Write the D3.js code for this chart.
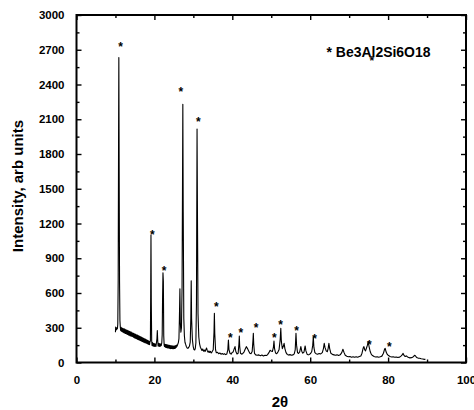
<!DOCTYPE html>
<html>
<head>
<meta charset="utf-8">
<script src="https://cdn.jsdelivr.net/npm/d3@7"></script>
<style>
  html, body { margin: 0; padding: 0; background: #fff; }
  svg { display: block; font-family: "Liberation Sans", Arial, sans-serif; font-weight: bold; }
</style>
</head>
<body>
<svg id="chart" width="474" height="410"></svg>
<script>
/* XRD scan, intensity vs 2θ, with asterisks on the beryl reflections. */

var xTicks = [0, 20, 40, 60, 80, 100];
var xMinor = [10, 30, 50, 70, 90];
var yTicks = [0, 300, 600, 900, 1200, 1500, 1800, 2100, 2400, 2700, 3000];
var yMinor = [150, 450, 750, 1050, 1350, 1650, 1950, 2250, 2550, 2850];

// [2θ, intensity]
var scan = [
  [10.0, 262], [10.05, 305], [10.1, 280], [10.2, 298], [10.3, 284], [10.4, 302], [10.5, 292],
  [10.6, 330], [10.7, 700], [10.8, 1900], [10.87, 2633], [10.95, 1700], [11.05, 700], [11.15, 360],
  [11.25, 305], [11.35, 275], [11.45, 303], [11.55, 270], [11.65, 298], [11.75, 266], [11.85, 295],
  [11.95, 262], [12.05, 292], [12.15, 258], [12.25, 290], [12.35, 256], [12.45, 286], [12.55, 250],
  [12.65, 283], [12.75, 251], [12.85, 280], [12.95, 244], [13.05, 277], [13.15, 242], [13.25, 274],
  [13.35, 238], [13.45, 271], [13.55, 235], [13.65, 268], [13.75, 232], [13.85, 264], [13.95, 230],
  [14.05, 262], [14.15, 226], [14.25, 257], [14.35, 224], [14.45, 254], [14.55, 220], [14.65, 252],
  [14.75, 217], [14.85, 248], [14.95, 212], [15.05, 246], [15.15, 210], [15.25, 241], [15.35, 207],
  [15.45, 238], [15.55, 204], [15.65, 236], [15.75, 200], [15.85, 232], [15.95, 197], [16.05, 228],
  [16.15, 195], [16.25, 226], [16.35, 190], [16.45, 222], [16.55, 188], [16.65, 219], [16.75, 184],
  [16.85, 215], [16.95, 181], [17.05, 212], [17.15, 178], [17.25, 208], [17.35, 175], [17.45, 205],
  [17.55, 172], [17.65, 202], [17.75, 168], [17.85, 198], [17.95, 166], [18.05, 194], [18.15, 162],
  [18.25, 191], [18.35, 160], [18.45, 188], [18.55, 156], [18.65, 184], [18.75, 154], [18.85, 178],
  [18.97, 185], [19.05, 600], [19.12, 1100],
  [19.2, 520], [19.3, 190], [19.4, 148], [19.5, 172], [19.6, 142], [19.7, 166], [19.8, 140],
  [19.9, 164], [20.0, 138], [20.1, 162], [20.2, 140], [20.3, 160], [20.4, 138], [20.5, 164],
  [20.65, 205], [20.75, 275], [20.85, 190], [20.95, 142], [21.05, 166], [21.15, 140], [21.25, 164],
  [21.35, 138], [21.45, 162], [21.55, 140], [21.65, 160], [21.75, 146], [21.9, 172], [22.0, 240],
  [22.1, 560], [22.2, 775], [22.3, 700], [22.4, 230], [22.5, 150], [22.6, 138], [22.7, 158],
  [22.8, 132], [22.9, 156], [23.0, 130], [23.1, 154], [23.2, 128], [23.3, 152], [23.4, 126],
  [23.5, 150], [23.6, 126], [23.7, 148], [23.8, 124], [23.9, 148], [24.0, 122], [24.1, 146],
  [24.2, 120], [24.3, 145], [24.4, 121], [24.5, 144], [24.6, 120], [24.7, 143], [24.8, 119],
  [24.9, 142], [25.0, 120], [25.1, 142], [25.2, 122], [25.3, 144], [25.4, 124], [25.5, 146],
  [25.6, 130], [25.7, 150], [25.85, 142], [26.0, 158],
  [26.15, 172], [26.3, 205], [26.42, 380], [26.55, 637], [26.65, 350], [26.8, 262], [26.95, 300],
  [27.1, 650], [27.2, 1400], [27.3, 2230], [27.4, 1300], [27.55, 380], [27.7, 230], [27.85, 175],
  [28.0, 158], [28.2, 138], [28.4, 126], [28.6, 122], [28.8, 130], [29.0, 142], [29.2, 175],
  [29.35, 380], [29.45, 706], [29.55, 380], [29.75, 200], [29.95, 140], [30.15, 112], [30.35, 108],
  [30.5, 122], [30.65, 170], [30.8, 520], [30.95, 2015], [31.05, 1300], [31.2, 420], [31.4, 220],
  [31.6, 160], [31.8, 132], [32.0, 118], [32.2, 104], [32.4, 116], [32.6, 98], [32.8, 108],
  [33.0, 94], [33.2, 110], [33.4, 125], [33.6, 100], [33.8, 88], [34.0, 100], [34.2, 86],
  [34.4, 96], [34.6, 82], [34.8, 92], [35.1, 110],
  [35.3, 260], [35.4, 425], [35.5, 250], [35.7, 110], [35.9, 84], [36.2, 88], [36.5, 76],
  [36.8, 82], [37.1, 72], [37.4, 78], [37.7, 70], [38.0, 76], [38.3, 68], [38.6, 74],
  [38.85, 110], [39.0, 194], [39.15, 110], [39.4, 80], [39.7, 72], [39.95, 86], [40.2, 90],
  [40.5, 120], [40.7, 137], [40.9, 95], [41.2, 74], [41.5, 80], [41.7, 160], [41.8, 229],
  [41.9, 140], [42.1, 80], [42.4, 72], [42.7, 78], [43.0, 90], [43.3, 115], [43.6, 137],
  [43.9, 120], [44.2, 100], [44.5, 80], [44.8, 76], [45.1, 95], [45.3, 190], [45.4, 252],
  [45.5, 160], [45.7, 78], [46.0, 66], [46.4, 62], [46.8, 66], [47.2, 58], [47.6, 64],
  [48.0, 56], [48.4, 62], [48.8, 60], [49.1, 70], [49.4, 85], [49.7, 105], [49.95, 100],
  [50.3, 95], [50.55, 130], [50.7, 185], [50.85, 120], [51.1, 82], [51.4, 76], [51.7, 90],
  [52.0, 110], [52.3, 200], [52.45, 295], [52.6, 180], [52.85, 120], [53.1, 140], [53.3, 165],
  [53.5, 120], [53.8, 85], [54.1, 70], [54.4, 64], [54.8, 68], [55.2, 62], [55.6, 66],
  [55.9, 75], [56.15, 110], [56.35, 252], [56.5, 150], [56.75, 85], [57.0, 78], [57.3, 92],
  [57.6, 137], [57.85, 95], [58.1, 80], [58.4, 90], [58.7, 143], [58.9, 100], [59.2, 72],
  [59.5, 66], [59.8, 70], [60.1, 78], [60.4, 95], [60.65, 150], [60.8, 223], [60.95, 130],
  [61.2, 85], [61.5, 76], [61.9, 72], [62.3, 78], [62.7, 74], [63.1, 85], [63.4, 120],
  [63.6, 165], [63.8, 130], [64.1, 100], [64.4, 93], [64.6, 120], [64.8, 165], [65.0, 120],
  [65.3, 80], [65.7, 70], [66.1, 66], [66.5, 62], [66.9, 66], [67.3, 60], [67.7, 66],
  [68.1, 85], [68.4, 114], [68.7, 85], [69.0, 62], [69.4, 54], [69.8, 50], [70.2, 52],
  [70.6, 46], [71.0, 50], [71.4, 45], [71.8, 50], [72.2, 46], [72.6, 52], [73.0, 56],
  [73.3, 80], [73.6, 125], [73.8, 137], [74.0, 110], [74.2, 100], [74.45, 125], [74.7, 150],
  [74.9, 180], [75.1, 140], [75.4, 95], [75.7, 70], [76.0, 60], [76.4, 52], [76.8, 48],
  [77.2, 50], [77.6, 46], [78.0, 50], [78.4, 55], [78.8, 80], [79.1, 115], [79.25, 122],
  [79.5, 90], [79.8, 70], [80.1, 60], [80.5, 52], [80.9, 48], [81.3, 50], [81.7, 45],
  [82.1, 48], [82.5, 44], [82.9, 46], [83.3, 55], [83.6, 65], [83.85, 79], [84.1, 60],
  [84.4, 52], [84.7, 57], [85.0, 48], [85.3, 44], [85.6, 40], [86.0, 42], [86.4, 48],
  [86.8, 62], [87.0, 58], [87.3, 44], [87.7, 38], [88.1, 36], [88.5, 32], [88.9, 30],
  [89.3, 27], [89.6, 28]
];

// asterisk centres [2θ, intensity]
var marks = [
  [11.35, 2748], [19.5, 1126], [22.5, 813], [26.8, 2357], [31.3, 2098], [35.9, 502],
  [39.5, 231], [42.2, 278], [46.1, 318], [50.8, 231], [52.4, 343], [56.5, 295],
  [61.1, 223], [75.2, 171], [80.3, 157], [75.8, 2625]
];

var legendText = "* Be3Al2Si6O18";

var W = 474, H = 410;
var m = { left: 76.5, right: 8, top: 15, bottom: 47.5 };
var x = d3.scaleLinear().domain([0, 100]).range([m.left, W - m.right]);
var y = d3.scaleLinear().domain([0, 3000]).range([H - m.bottom, m.top]);

var svg = d3.select("#chart");

// trace
var line = d3.line().x(function (d) { return x(d[0]); }).y(function (d) { return y(d[1]); });
svg.append("path").datum(scan)
  .attr("d", line).attr("fill", "none").attr("stroke", "#000")
  .attr("stroke-width", 1.1).attr("stroke-linejoin", "round");

// axes: ticks point inward on all four sides
function styleAxis(g) {
  g.select(".domain").remove();
  g.selectAll(".tick line").attr("stroke", "#000").attr("stroke-width", 1.4);
  g.selectAll(".tick text").attr("fill", "#000").attr("font-size", 11.5).attr("font-weight", "bold");
}
var x0 = y(0), x1 = y(3000);
function bottomAxis(vals, len, labels) {
  var a = d3.axisBottom(x).tickValues(vals).tickSize(-len).tickPadding(len + 8);
  a.tickFormat(labels ? d3.format("d") : "");
  svg.append("g").attr("transform", "translate(0," + x0 + ")").call(a).call(styleAxis);
}
function leftAxis(vals, len, labels) {
  var a = d3.axisLeft(y).tickValues(vals).tickSize(-len).tickPadding(len + 7);
  a.tickFormat(labels ? d3.format("d") : "");
  svg.append("g").attr("transform", "translate(" + m.left + ",0)").call(a).call(styleAxis);
}
bottomAxis(xTicks, 5, true);
bottomAxis(xMinor, 3, false);
leftAxis(yTicks, 5, true);
leftAxis(yMinor, 3, false);
[[xTicks, 5], [xMinor, 3]].forEach(function (t) {
  svg.append("g").attr("transform", "translate(0," + x1 + ")")
    .call(d3.axisTop(x).tickValues(t[0]).tickSize(-t[1]).tickFormat("")).call(styleAxis);
});
[[yTicks, 5], [yMinor, 3]].forEach(function (t) {
  svg.append("g").attr("transform", "translate(" + x(100) + ",0)")
    .call(d3.axisRight(y).tickValues(t[0]).tickSize(-t[1]).tickFormat("")).call(styleAxis);
});

// frame
svg.append("rect")
  .attr("x", x(0)).attr("y", y(3000))
  .attr("width", x(100) - x(0)).attr("height", y(0) - y(3000))
  .attr("fill", "none").attr("stroke", "#000").attr("stroke-width", 2);

// peak asterisks
svg.append("g").selectAll("text").data(marks).join("text")
  .attr("x", function (d) { return x(d[0]); })
  .attr("y", function (d) { return y(d[1]) + 6.5; })
  .attr("text-anchor", "middle").attr("font-size", 12).text("*");

// legend
svg.append("text").attr("x", 326.5).attr("y", 57)
  .attr("font-size", 15).attr("textLength", 104).attr("lengthAdjust", "spacingAndGlyphs")
  .text(legendText);

// axis titles
svg.append("text").attr("x", 280).attr("y", 407).attr("text-anchor", "middle")
  .attr("font-size", 15).text("2θ");
svg.append("text").attr("transform", "translate(23,186) rotate(-90)")
  .attr("text-anchor", "middle").attr("font-size", 15).text("Intensity, arb units");
</script>
</body>
</html>
